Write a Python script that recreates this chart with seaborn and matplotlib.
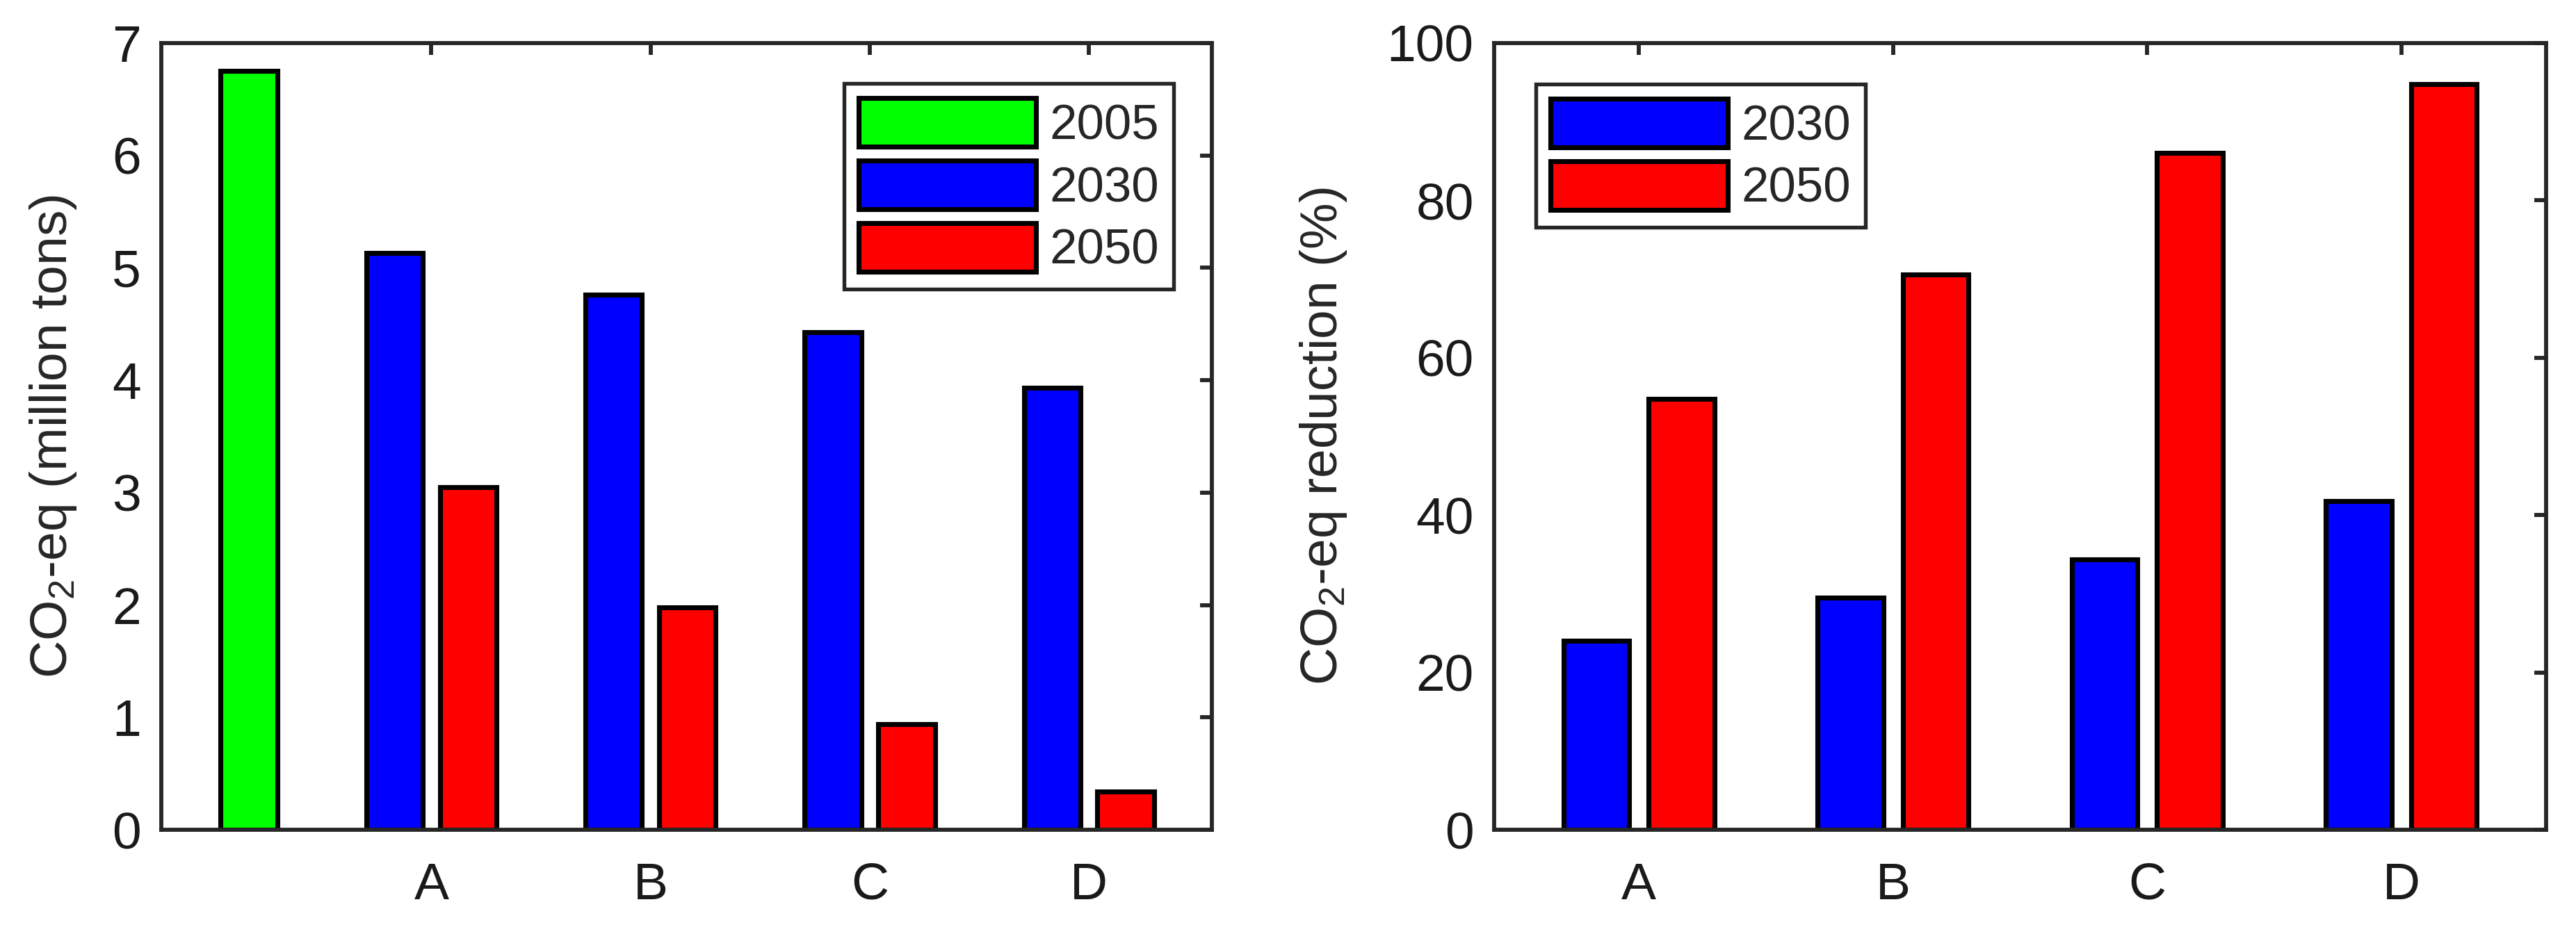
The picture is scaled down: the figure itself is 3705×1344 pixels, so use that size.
import pandas as pd
import matplotlib.pyplot as plt
import seaborn as sns

# ---------------- DATA ----------------
scenarios = ["A", "B", "C", "D"]
base_label = "base"
base_2005 = [6.75]
emis_2030 = [5.13, 4.76, 4.43, 3.93]
emis_2050 = [3.05, 1.98, 0.94, 0.34]
red_2030 = [24.0, 29.5, 34.4, 41.8]
red_2050 = [54.8, 70.6, 86.0, 94.8]

colors = {"pad": "white", "2005": "#00ff00", "2030": "#0000ff", "2050": "#ff0000"}

# ---------------- STYLE ----------------
sns.set_style("white")
plt.rcParams["font.family"] = ["Liberation Sans", "DejaVu Sans"]
plt.rcParams["mathtext.fontset"] = "custom"
plt.rcParams["mathtext.rm"] = "Liberation Sans"
plt.rcParams["mathtext.it"] = "Liberation Sans:italic"
plt.rcParams["mathtext.bf"] = "Liberation Sans:bold"

AX_COL = "#262626"
FS = 18
BAR_KW = dict(width=0.672, gap=0.23, edgecolor="black", linewidth=1.7,
              errorbar=None, dodge=True, saturation=1, legend=False)
LEG_KW = dict(borderaxespad=0, fontsize=17, handlelength=3.6, handleheight=1.15,
              handletextpad=0.27, borderpad=0.3, labelspacing=0.22,
              fancybox=False, framealpha=1, edgecolor=AX_COL)

fig = plt.figure(figsize=(12.35, 4.48), dpi=300)
ax1 = fig.add_axes([0.0626, 0.1116, 0.4078, 0.8423])
ax2 = fig.add_axes([0.5800, 0.1116, 0.4084, 0.8423])

order = [base_label] + scenarios

# ---------------- LEFT: emissions ----------------
df_base = pd.DataFrame({"scenario": [base_label], "year": ["2005"], "value": base_2005})
df_emis = pd.DataFrame({
    "scenario": scenarios * 2,
    "year": ["2030"] * 4 + ["2050"] * 4,
    "value": emis_2030 + emis_2050,
})
sns.barplot(data=df_base, x="scenario", y="value", hue="year", order=order,
            hue_order=["pad", "2005"], palette=colors, ax=ax1, **BAR_KW)
sns.barplot(data=df_emis, x="scenario", y="value", hue="year", order=order,
            hue_order=["2030", "2050"], palette=colors, ax=ax1, **BAR_KW)
ax1.set_xticks(range(1, len(order)), scenarios)
ax1.set_xlim(-0.232, 4.56)
ax1.set_ylim(0, 7)
ax1.set_yticks(range(0, 8))
ax1.set_xlabel("")
ax1.set_ylabel(r"CO$_{\mathrm{2}}$-eq (million tons)", fontsize=FS)
ax1.yaxis.set_label_coords(-0.079, 0.5)
h1 = [c for c in ax1.containers if len(c) > 0]
leg1 = ax1.legend(handles=h1, labels=["2005", "2030", "2050"],
                  loc="upper right", bbox_to_anchor=(0.9636, 0.9488), **LEG_KW)
leg1.get_frame().set_linewidth(1.3)

# ---------------- RIGHT: reduction ----------------
df_red = pd.DataFrame({
    "scenario": scenarios * 2,
    "year": ["2030"] * 4 + ["2050"] * 4,
    "value": red_2030 + red_2050,
})
sns.barplot(data=df_red, x="scenario", y="value", hue="year", order=scenarios,
            hue_order=["2030", "2050"], palette=colors, ax=ax2, **BAR_KW)
ax2.set_xlim(-0.57, 3.57)
ax2.set_ylim(0, 100)
ax2.set_yticks(range(0, 101, 20))
ax2.set_xlabel("")
ax2.set_ylabel(r"CO$_{\mathrm{2}}$-eq reduction (%)", fontsize=FS)
ax2.yaxis.set_label_coords(-0.138, 0.5)
h2 = [c for c in ax2.containers if len(c) > 0]
leg2 = ax2.legend(handles=h2, labels=["2030", "2050"],
                  loc="upper left", bbox_to_anchor=(0.0397, 0.948), **LEG_KW)
leg2.get_frame().set_linewidth(1.3)

for ax in (ax1, ax2):
    for sp in ax.spines.values():
        sp.set_visible(True)
        sp.set_color(AX_COL)
        sp.set_linewidth(1.4)
    ax.tick_params(axis="both", direction="in", top=True, right=True, length=4,
                   width=1.4, color=AX_COL, labelsize=FS, labelcolor="#1a1a1a")
    ax.tick_params(axis="y", pad=7)
    ax.tick_params(axis="x", pad=11)

fig.savefig("out.png", dpi=300)
